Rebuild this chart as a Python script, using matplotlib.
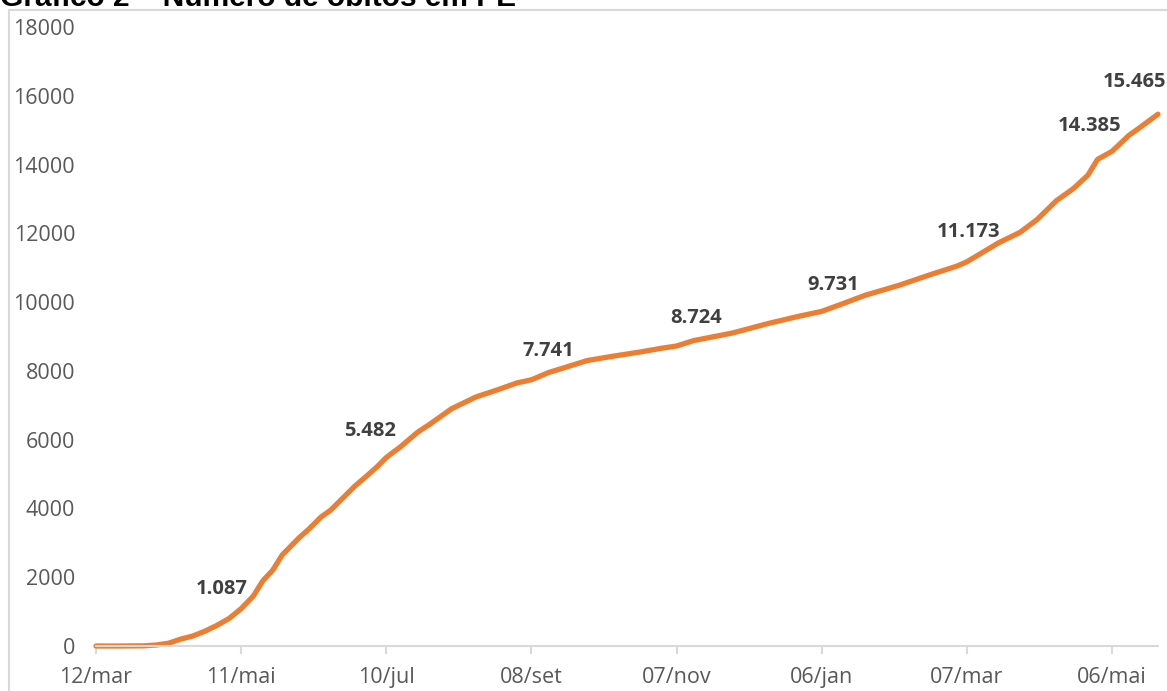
import matplotlib.pyplot as plt
import matplotlib.patches as patches

# days since 12/mar/2020 and cumulative deaths
days = [0, 10, 20, 25, 30, 35, 40, 45, 50, 55, 60, 65, 69, 73, 77, 84, 88, 93, 97,
        102, 107, 112, 116, 120, 126, 133, 138, 147, 157, 166, 174, 180, 187, 193,
        203, 214, 225, 234, 240, 247, 263, 278, 290, 300, 307, 318, 332, 345, 356,
        360, 373, 382, 389, 397, 404, 410, 414, 420, 427, 431, 439]
deaths = [0, 0, 5, 30, 80, 200, 290, 430, 600, 800, 1087, 1450, 1900, 2200, 2650,
          3150, 3400, 3750, 3950, 4300, 4650, 4950, 5200, 5482, 5800, 6220, 6450,
          6900, 7240, 7450, 7650, 7741, 7950, 8080, 8300, 8430, 8550, 8660, 8724,
          8880, 9100, 9380, 9580, 9731, 9910, 10200, 10490, 10800, 11050, 11173,
          11720, 12030, 12400, 12950, 13300, 13690, 14150, 14385, 14850, 15050, 15465]

tick_days = [0, 60, 120, 180, 240, 300, 360, 420]
tick_labels = ['12/mar', '11/mai', '10/jul', '08/set', '07/nov', '06/jan', '07/mar', '06/mai']

label_days = [60, 120, 180, 240, 300, 360, 420, 439]
label_offsets = [(-19, 20), (-16, 26), (17, 29), (20, 28), (12, 26), (2, 30), (-22, 25), (-23, 32)]

fig = plt.figure(figsize=(11.67, 6.91), dpi=100)
ax = fig.add_axes([96 / 1167, 45 / 691, 1062 / 1167, 619 / 691])

# chart frame
fig.patches.append(patches.Rectangle((9 / 1167, -0.1), 1.2, 1.1 - 10 / 691,
                                      transform=fig.transFigure, fill=False,
                                      edgecolor='#D9D9D9', linewidth=1.5))

fig.text(0.0, 1 - 6 / 691, 'Gráfico 2 – Número de óbitos em PE', fontsize=21.5,
         fontweight='bold', family='Liberation Sans', va='baseline', ha='left')

ax.plot(days, deaths, color='#ED7D31', linewidth=3.8, solid_capstyle='round',
        solid_joinstyle='round', clip_on=False)

for d, (ox, oy) in zip(label_days, label_offsets):
    v = deaths[days.index(d)]
    ax.annotate(f'{v:,}'.replace(',', '.'), (d, v), xytext=(ox, oy),
                textcoords='offset pixels', ha='center', va='center',
                fontsize=14.5, fontweight='bold', color='#404040', family='Open Sans',
                annotation_clip=False)

ax.set_xlim(0, 439)
ax.set_ylim(0, 18000)
ax.set_yticks(range(0, 18001, 2000))
ax.set_xticks(tick_days)
ax.set_xticklabels(tick_labels)

for s in ['top', 'right', 'left']:
    ax.spines[s].set_visible(False)
ax.spines['bottom'].set_color('#D9D9D9')
ax.spines['bottom'].set_linewidth(1.5)

ax.tick_params(axis='y', length=0, pad=15, labelsize=15.5, labelcolor='#595959')
ax.tick_params(axis='x', length=6, width=1.5, color='#D9D9D9', pad=9,
               labelsize=15.5, labelcolor='#595959')
for lab in ax.get_xticklabels() + ax.get_yticklabels():
    lab.set_family('Open Sans')

fig.savefig('out.png', dpi=100)
